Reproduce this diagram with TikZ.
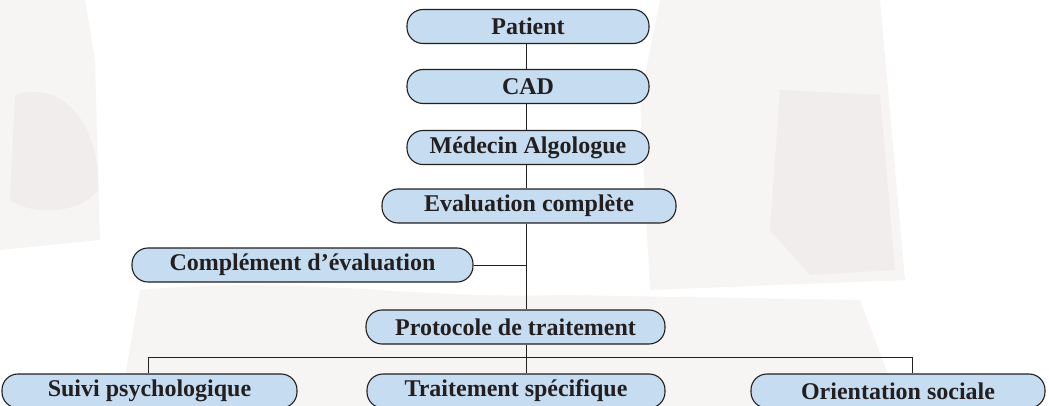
\documentclass[tikz,border=0pt]{standalone}
\usepackage{fontspec}
\setmainfont{Liberation Serif}
\begin{document}
\definecolor{boxfill}{HTML}{C6DCF1}
\definecolor{ink}{HTML}{231F20}
\definecolor{wash}{HTML}{F7F4F4}
\definecolor{washdark}{HTML}{F1EDED}
\begin{tikzpicture}[x=1pt,y=-1pt,
  stage/.style={draw=ink, line width=1.1pt, fill=boxfill, rounded corners=16pt,
    minimum height=34pt, inner sep=0pt, text=ink,
    font=\fontsize{24}{26}\selectfont\bfseries},
  link/.style={draw=ink, line width=0.9pt}]
\useasboundingbox (0,0) rectangle (1049,406);
\fill[white] (0,0) rectangle (1049,406);

% faint background wash
\fill[wash] (0,0) -- (85,0) -- (95,60) -- (100,240) -- (0,250) -- cycle;
\fill[washdark] (15,95) .. controls (60,80) and (100,120) .. (98,190) .. controls (80,215) and (30,215) .. (10,200) -- cycle;
\fill[wash] (660,0) -- (880,0) -- (905,280) -- (650,290) -- (640,100) -- cycle;
\fill[washdark] (780,90) -- (880,95) -- (895,270) -- (810,275) -- (770,230) -- cycle;
\fill[wash] (140,290) .. controls (300,275) and (420,300) .. (560,295) -- (860,300) -- (900,406) -- (120,406) -- cycle;

% stages of the pathway
\node[stage, minimum width=242pt] (pat) at (528,26.5) {Patient};
\node[stage, minimum width=242pt] (cad) at (528,86.5) {CAD};
\node[stage, minimum width=242pt] (med) at (528,147.5) {Médecin Algologue};
\node[stage, minimum width=294pt] (eval) at (529,206) {Evaluation complète};
\node[stage, minimum width=341pt] (comp) at (302.5,265) {Complément d’évaluation};
\node[stage, minimum width=299pt] (prot) at (515.5,327) {Protocole de traitement};
\node[stage, minimum width=295pt] (psy) at (149.5,391) {Suivi psychologique};
\node[stage, minimum width=298pt] (spec) at (516,391) {Traitement spécifique};
\node[stage, minimum width=294pt] (soc) at (898,391) {Orientation sociale};

% vertical spine and branches
\coordinate (spine) at (526,0);
\coordinate (barL) at (148,357);
\coordinate (barR) at (912,357);
\draw[link] (pat.south -| spine) -- (cad.north -| spine);
\draw[link] (cad.south -| spine) -- (med.north -| spine);
\draw[link] (med.south -| spine) -- (eval.north -| spine);
\draw[link] (eval.south -| spine) -- (prot.north -| spine);
\draw[link] (comp.east) -- (comp.east -| spine);
\draw[link] (prot.south -| spine) -- (spec.north -| spine);
\draw[link] (barL |- psy.north) -- (barL) -- (barR) -- (barR |- soc.north);
\end{tikzpicture}
\end{document}
